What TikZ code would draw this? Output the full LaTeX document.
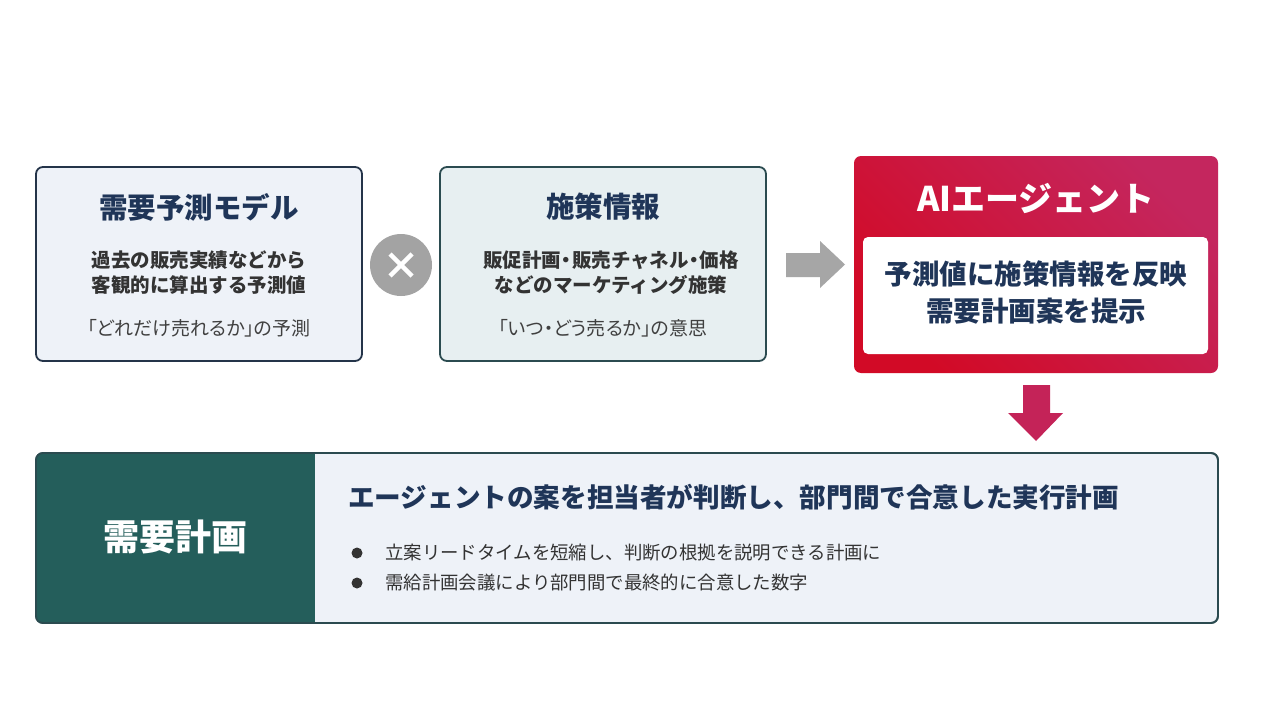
\documentclass[tikz,border=0pt]{standalone}
\usepackage{fontspec}
\setmainfont{Noto Sans CJK JP}
\usetikzlibrary{calc}
\definecolor{navy}{HTML}{1F3558}
\definecolor{fillA}{HTML}{EEF2F8}
\definecolor{lineA}{HTML}{243449}
\definecolor{fillB}{HTML}{E7EFF1}
\definecolor{lineB}{HTML}{2B4B50}
\definecolor{grayC}{HTML}{A3A3A3}
\definecolor{grayArr}{HTML}{A6A6A6}
\definecolor{redA}{HTML}{D20A26}
\definecolor{redB}{HTML}{C4265E}
\definecolor{downArr}{HTML}{C42358}
\definecolor{teal}{HTML}{245E5B}
\definecolor{bodytxt}{HTML}{333333}
\definecolor{softtxt}{HTML}{404040}
\newcommand{\nb}{\hspace{-0.22em}・\hspace{-0.22em}}
\tikzset{
  card/.style={draw, line width=1.8pt, rounded corners=7pt, inner sep=0pt},
  ttl/.style={font=\bfseries\fontsize{28.5}{32}\selectfont, text=navy, inner sep=0pt},
  sub/.style={font=\bfseries\fontsize{19.5}{23}\selectfont, text=bodytxt, inner sep=0pt},
  note/.style={font=\fontsize{19}{22}\selectfont\addfontfeatures{RawFeature=+palt}, text=softtxt, inner sep=0pt},
  bul/.style={font=\fontsize{18.4}{22}\selectfont, text=bodytxt, inner sep=0pt, anchor=west},
  dot/.style={circle, fill=bodytxt, minimum size=11pt, inner sep=0pt},
}
\begin{document}
\begin{tikzpicture}[x=1pt,y=-1pt]
\useasboundingbox (0,0) rectangle (1280,720);
\fill[white] (0,0) rectangle (1280,720);

% Box 1
\node[card, draw=lineA, fill=fillA, minimum width=326pt, minimum height=194pt] (m1) at (199,264) {};
\node[ttl] (m1t) at (199,207) {需要予測モデル};
\node[sub] (m1a) at (199,260) {過去の販売実績などから};
\node[sub] (m1b) at (199,285) {客観的に算出する予測値};
\node[note] (m1c) at (199,328) {「どれだけ売れるか」の予測};

% times circle
\node[circle, fill=grayC, minimum size=62pt, inner sep=0pt] (times) at (401,265) {};
\draw[white, line width=4.5pt] ($(times)+(-11,-11)$) -- ($(times)+(11,11)$);
\draw[white, line width=4.5pt] ($(times)+(-11,11)$) -- ($(times)+(11,-11)$);

% Box 2
\node[card, draw=lineB, fill=fillB, minimum width=326pt, minimum height=194pt] (m2) at (603,264) {};
\node[ttl] (m2t) at (603,207) {施策情報};
\node[sub] (m2a) at (611,260) {販促計画\nb 販売チャネル\nb 価格};
\node[sub] (m2b) at (611,285) {などのマーケティング施策};
\node[note] (m2c) at (603,328) {「いつ・どう売るか」の意思};

% gray arrow
\fill[grayArr] (786,253) -- (820,253) -- (820,241) -- (845,264.5) -- (820,288) -- (820,277) -- (786,277) -- cycle;

% AI box
\node[rounded corners=7pt, inner sep=0pt, minimum width=364pt, minimum height=217pt,
      top color=redB, bottom color=redA, shading angle=-45] (ai) at (1036,264.5) {};
\node[font=\bfseries\fontsize{34}{38}\selectfont, text=white, inner sep=0pt] (ait) at (1036,199) {AIエージェント};
\node[fill=white, rounded corners=5pt, inner sep=0pt, minimum width=345pt, minimum height=117pt] (aibox) at (1035.5,295.5) {};
\node[font=\bfseries\fontsize{27.5}{32}\selectfont, text=navy, inner sep=0pt] (aia) at (1036,274) {予測値に施策情報を反映};
\node[font=\bfseries\fontsize{27.5}{32}\selectfont, text=navy, inner sep=0pt] (aib) at (1036,311) {需要計画案を提示};

% down arrow
\fill[downArr] (1023,385) -- (1050,385) -- (1050,413) -- (1063,413) -- (1036,441) -- (1008,413) -- (1023,413) -- cycle;

% Bottom box
\node[card, draw=lineB, fill=fillA, minimum width=1182pt, minimum height=170pt] (plan) at (627,538) {};
\fill[teal, rounded corners=7pt] (36,453) rectangle (330,623);
\fill[teal] (300,453) rectangle (315,623);
\fill[fillA] (315,454) rectangle (331,622);
\draw[lineB, line width=1.8pt, rounded corners=7pt] (36,453) rectangle (1218,623);
\node[font=\bfseries\fontsize{36}{40}\selectfont, text=white, inner sep=0pt] (plant) at (175,537) {需要計画};
\node[font=\bfseries\fontsize{26.6}{30}\selectfont, text=navy, inner sep=0pt, anchor=west] (planh) at (348,497) {エージェントの案を担当者が判断し、部門間で合意した実行計画};
\node[dot] (d1) at (357,553) {};
\node[bul] (b1) at (385,553) {立案リードタイムを短縮し、判断の根拠を説明できる計画に};
\node[dot] (d2) at (357,583) {};
\node[bul] (b2) at (385,583) {需給計画会議により部門間で最終的に合意した数字};
\end{tikzpicture}
\end{document}
